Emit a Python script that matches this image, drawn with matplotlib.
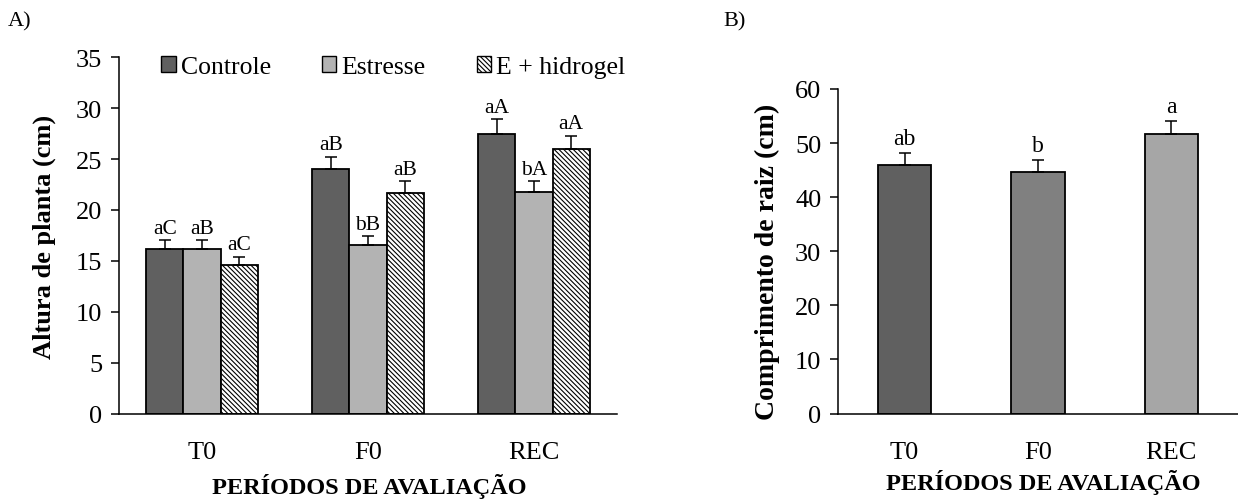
import numpy as np
import matplotlib
matplotlib.use("Agg")
import matplotlib.pyplot as plt
from matplotlib.patches import Patch

plt.rcParams['font.family'] = ['Liberation Serif', 'DejaVu Serif']
plt.rcParams['hatch.linewidth'] = 0.8

# Panel A - plant height
periodos = ["T0", "F0", "REC"]
trat_nomes = ["Controle", "Estresse", "E + hidrogel"]
altura = {
    "Controle":     [16.2, 24.0, 27.5],
    "Estresse":     [16.2, 16.6, 21.8],
    "E + hidrogel": [14.6, 21.7, 26.0],
}
altura_erro = {
    "Controle":     [0.8, 1.2, 1.4],
    "Estresse":     [0.8, 0.8, 1.0],
    "E + hidrogel": [0.8, 1.1, 1.3],
}
altura_letras = {
    "Controle":     ["aC", "aB", "aA"],
    "Estresse":     ["aB", "bB", "bA"],
    "E + hidrogel": ["aC", "aB", "aA"],
}

# Panel B - root length
raiz = [45.9, 44.6, 51.6]
raiz_erro = [2.3, 2.2, 2.4]
raiz_letras = ["ab", "b", "a"]

cores_a = {"Controle": "#606060", "Estresse": "#b3b3b3", "E + hidrogel": "white"}
hatch_a = {"Controle": None, "Estresse": None, "E + hidrogel": "\\" * 7}
cores_b = ["#606060", "#808080", "#a6a6a6"]

W, H = 1238, 502
fig = plt.figure(figsize=(W / 100, H / 100), dpi=100)


def px_axes(left, right, top, bottom):
    return fig.add_axes([left / W, 1 - bottom / H, (right - left) / W, (bottom - top) / H])


def style_axes(ax):
    ax.spines['top'].set_visible(False)
    ax.spines['right'].set_visible(False)
    ax.spines['left'].set_linewidth(1.1)
    ax.spines['bottom'].set_linewidth(1.1)
    ax.tick_params(axis='y', direction='out', length=6, width=1.1, labelsize=19, pad=6)
    ax.tick_params(axis='x', length=0, labelsize=19, pad=20)


# ---- A ----
axA = px_axes(119, 617, 58.3, 414.5)
x = np.arange(len(periodos))
w = 0.223
for i, nome in enumerate(trat_nomes):
    pos = x + (i - 1) * w
    axA.bar(pos, altura[nome], width=w, color=cores_a[nome], edgecolor='black',
            linewidth=1.3, hatch=hatch_a[nome], zorder=2)
    axA.errorbar(pos, altura[nome], yerr=[np.zeros(3), altura_erro[nome]], fmt='none',
                 ecolor='black', elinewidth=1.1, capsize=4.5, capthick=1.1, zorder=3)
    for xp, v, e, lab in zip(pos, altura[nome], altura_erro[nome], altura_letras[nome]):
        axA.annotate(lab, (xp, v + e), xytext=(0, 2), textcoords='offset points',
                     ha='center', va='bottom', fontsize=15.5)
axA.set_xlim(-0.5, 2.5)
axA.set_ylim(0, 35)
axA.set_yticks(np.arange(0, 36, 5))
axA.set_xticks(x)
axA.set_xticklabels(periodos)
style_axes(axA)

handles = [Patch(facecolor=cores_a[n], edgecolor='black', hatch=hatch_a[n], linewidth=1.0)
           for n in trat_nomes]
axA.legend(handles, trat_nomes, loc='center', bbox_to_anchor=(0.551, 0.973), ncol=3,
           frameon=False, fontsize=18.5, handlelength=0.55, handleheight=0.55,
           handletextpad=0.2, columnspacing=2.0, borderaxespad=0)

fig.text(44 / W, 1 - 237 / H, "Altura de planta (cm)", rotation=90, ha='center', va='center',
         fontsize=19, fontweight='bold')
fig.text(369 / W, 1 - 487 / H, "PERÍODOS DE AVALIAÇÃO", ha='center', va='center',
         fontsize=17.5, fontweight='bold')
fig.text(20 / W, 1 - 22 / H, "A)", ha='center', va='center', fontsize=16)

# ---- B ----
axB = px_axes(838, 1238, 90, 414.5)
axB.bar(x, raiz, width=0.40, color=cores_b, edgecolor='black', linewidth=1.3, zorder=2)
axB.errorbar(x, raiz, yerr=[np.zeros(3), raiz_erro], fmt='none', ecolor='black',
             elinewidth=1.1, capsize=4.5, capthick=1.1, zorder=3)
for xp, v, e, lab in zip(x, raiz, raiz_erro, raiz_letras):
    axB.annotate(lab, (xp, v + e), xytext=(0, 3), textcoords='offset points',
                 ha='center', va='bottom', fontsize=17)
axB.set_xlim(-0.5, 2.5)
axB.set_ylim(0, 60)
axB.set_yticks(np.arange(0, 61, 10))
axB.set_xticks(x)
axB.set_xticklabels(periodos)
style_axes(axB)

fig.text(767 / W, 1 - 262 / H, "Comprimento de raiz (cm)", rotation=90, ha='center',
         va='center', fontsize=20, fontweight='bold')
fig.text(1043 / W, 1 - 483 / H, "PERÍODOS DE AVALIAÇÃO", ha='center', va='center',
         fontsize=17.5, fontweight='bold')
fig.text(735 / W, 1 - 22 / H, "B)", ha='center', va='center', fontsize=16)

fig.savefig("out.png", dpi=100)
